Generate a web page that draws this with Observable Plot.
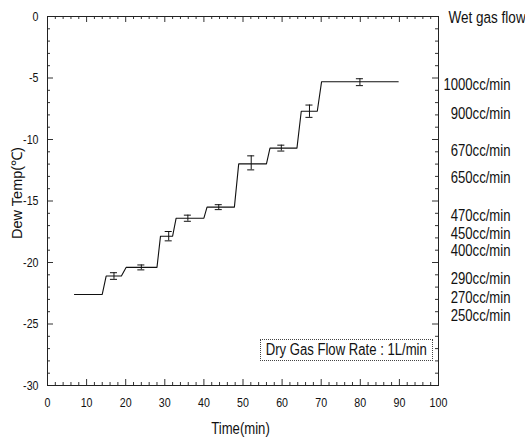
<!DOCTYPE html>
<html>
<head>
<meta charset="utf-8">
<script src="https://cdn.jsdelivr.net/npm/d3@7"></script>
<script src="https://cdn.jsdelivr.net/npm/@observablehq/plot@0.6"></script>
<style>
  html, body { margin: 0; padding: 0; background: #fff; }
  #wrap { position: relative; width: 525px; height: 438px; overflow: hidden; }
  #note {
    position: absolute; left: 260px; top: 339px; width: 171px; height: 20px;
    border: 1px dotted #444; font-family: "Liberation Sans", Arial, sans-serif;
    font-size: 16px; line-height: 20px; color: #111; white-space: nowrap;
    display: flex; justify-content: center; align-items: center;
  }
  #note span { display: inline-block; flex: none; transform: scaleX(0.82); transform-origin: center; }
</style>
</head>
<body>
<div id="wrap"></div>
<script>
// Step line of dew temperature vs time
const stepTime = [6.9, 14, 15, 18.9, 20.1, 28, 28.9, 32, 32.9, 40, 40.8, 47.8, 48.9, 56, 56.9, 63.8, 64.9, 69, 70.1, 89.7];
const stepTemp = [-22.6, -22.6, -21.1, -21.1, -20.4, -20.4, -17.86, -17.86, -16.4, -16.4, -15.5, -15.5, -11.98, -11.98, -10.7, -10.7, -7.7, -7.7, -5.3, -5.3];

// Error bars
const errTime = [17, 24, 31, 35.9, 43.8, 52.1, 59.8, 67, 79.9];
const errMean = [-21.1, -20.4, -17.86, -16.4, -15.5, -11.9, -10.7, -7.7, -5.34];
const errDev  = [0.27, 0.2, 0.38, 0.25, 0.2, 0.57, 0.24, 0.5, 0.28];

// Wet gas flow labels (right side)
const flowLabels = ["1000cc/min", "900cc/min", "670cc/min", "650cc/min", "470cc/min", "450cc/min", "400cc/min", "290cc/min", "270cc/min", "250cc/min"];
const flowLevel  = [-5.53, -7.89, -10.89, -13.09, -16.18, -17.64, -19.02, -21.3, -22.85, -24.31];

const xMajor = [0, 10, 20, 30, 40, 50, 60, 70, 80, 90, 100];
const yMajor = [0, -5, -10, -15, -20, -25, -30];
const xMinor = d3.range(0, 101, 2);
const yMinor = d3.range(-30, 1, 1);

const W = 525, H = 438, mL = 47, mR = 87, mT = 16, mB = 53;
const pw = W - mL - mR, ph = H - mT - mB;
const FN = '"Liberation Sans", Arial, sans-serif';

const line = stepTime.map((t, i) => ({t, v: stepTemp[i]}));
const errs = errTime.map((t, i) => ({t, m: errMean[i], s: errDev[i]}));
const flows = flowLabels.map((l, i) => ({l, y: flowLevel[i]}));

const majLen = 6, minLen = 3;
const isMajX = d => d % 10 === 0, isMajY = d => d % 5 === 0;

const chart = Plot.plot({
  width: W, height: H,
  marginLeft: mL, marginRight: mR, marginTop: mT, marginBottom: mB,
  style: {fontFamily: FN, background: "white", color: "#111"},
  x: {domain: [0, 100]},
  y: {domain: [-30, 0]},
  marks: [
    // inward ticks: bottom, top, left, right
    Plot.tickX(xMinor.filter(d => !isMajX(d)), {x: d => d, insetTop: ph - minLen, stroke: "#333"}),
    Plot.tickX(xMinor.filter(isMajX), {x: d => d, insetTop: ph - majLen, stroke: "#333"}),
    Plot.tickX(xMinor.filter(d => !isMajX(d)), {x: d => d, insetBottom: ph - minLen, stroke: "#333"}),
    Plot.tickX(xMinor.filter(isMajX), {x: d => d, insetBottom: ph - majLen, stroke: "#333"}),
    Plot.tickY(yMinor.filter(d => !isMajY(d)), {y: d => d, insetRight: pw - minLen, stroke: "#333"}),
    Plot.tickY(yMinor.filter(isMajY), {y: d => d, insetRight: pw - majLen, stroke: "#333"}),
    Plot.tickY(yMinor.filter(d => !isMajY(d)), {y: d => d, insetLeft: pw - minLen, stroke: "#333"}),
    Plot.tickY(yMinor.filter(isMajY), {y: d => d, insetLeft: pw - majLen, stroke: "#333"}),
    Plot.frame({stroke: "#222"}),
    Plot.axisX({ticks: xMajor, tickSize: 0, tickPadding: 12, tickFormat: d => String(d), label: null, fontSize: 13}),
    Plot.axisY({ticks: yMajor, tickSize: 0, tickPadding: 9, tickFormat: d => String(d), label: null, fontSize: 13}),
    // step line
    Plot.line(line, {x: "t", y: "v", stroke: "#111", strokeWidth: 1.1}),
    // error bars
    Plot.ruleX(errs, {x: "t", y1: d => d.m - d.s, y2: d => d.m + d.s, stroke: "#111"}),
    Plot.ruleY(errs, {y: d => d.m + d.s, x1: d => d.t - 0.9, x2: d => d.t + 0.9, stroke: "#111"}),
    Plot.ruleY(errs, {y: d => d.m - d.s, x1: d => d.t - 0.9, x2: d => d.t + 0.9, stroke: "#111"}),
    // right labels
    Plot.text(flows, {x: () => 100, y: "y", text: "l", textAnchor: "end", dx: 72, fontSize: 16, fill: "#111", className: "narrow"}),
    Plot.text(["Wet gas flow"], {frameAnchor: "top-right", textAnchor: "start", lineAnchor: "bottom", dx: 10, dy: 6, fontSize: 16.5, fill: "#111", className: "narrow"}),
    // axis titles
    Plot.text(["Time(min)"], {frameAnchor: "bottom", textAnchor: "middle", lineAnchor: "bottom", dy: 48, dx: -2.5, fontSize: 16, fill: "#111", className: "narrow"}),
    Plot.text(["Dew Temp(℃)"], {frameAnchor: "left", textAnchor: "middle", lineAnchor: "middle", rotate: -90, dx: -30, dy: -8, fontSize: 14.5, fill: "#111"})
  ]
});

// condense texts (the reference uses a narrow face)
function condense(sel) {
  chart.querySelectorAll(sel).forEach(t => {
    const ax = parseFloat(t.getAttribute("x") || "0") || 0;
    const tr = t.getAttribute("transform") || "";
    t.setAttribute("transform", `${tr} translate(${ax},0) scale(0.82,1) translate(${-ax},0)`);
  });
}
condense('g[aria-label="x-axis tick label"] text');
condense('g[aria-label="y-axis tick label"] text');
condense('g.narrow text');

const wrap = document.getElementById("wrap");
wrap.appendChild(chart);
const note = document.createElement("div");
note.id = "note";
const span = document.createElement("span");
span.textContent = "Dry Gas Flow Rate : 1L/min";
note.appendChild(span);
wrap.appendChild(note);
</script>
</body>
</html>
